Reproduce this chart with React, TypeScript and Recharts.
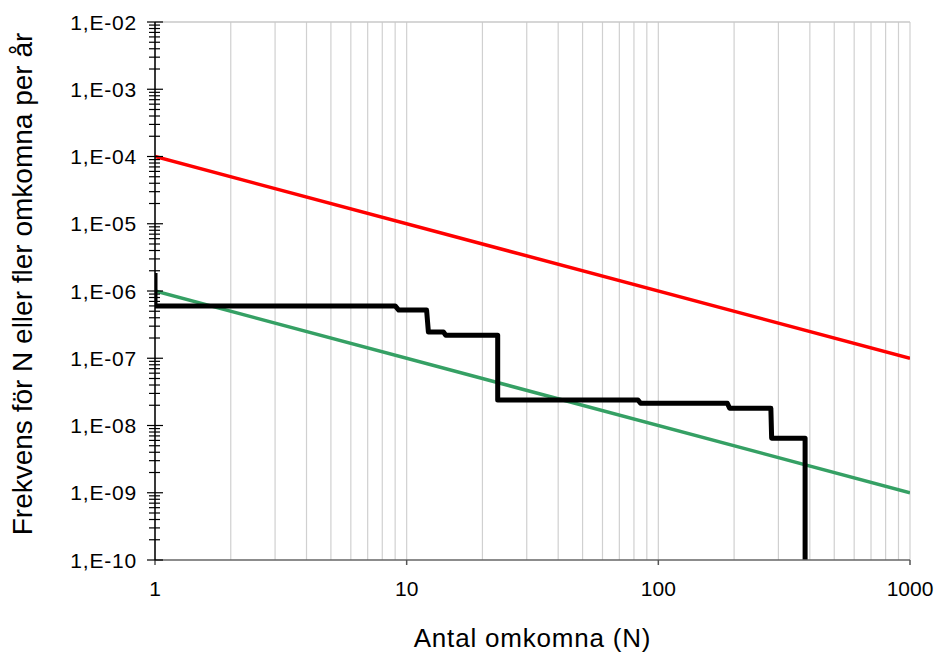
import { LineChart, Line, XAxis, YAxis, CartesianGrid, ReferenceLine } from 'recharts';

// Risk criteria lines (N, frequency)
const upperLimit = [
  { n: 1, f: 1e-4 },
  { n: 1000, f: 1e-7 },
];
const lowerLimit = [
  { n: 1, f: 1e-6 },
  { n: 1000, f: 1e-9 },
];

// FN curve (steps)
const fnCurve = [
  { n: 1, f: 1.85e-6 },
  { n: 1, f: 6e-7 },
  { n: 9, f: 6e-7 },
  { n: 9.3, f: 5.2e-7 },
  { n: 12, f: 5.2e-7 },
  { n: 12.2, f: 2.45e-7 },
  { n: 14, f: 2.45e-7 },
  { n: 14.3, f: 2.2e-7 },
  { n: 23, f: 2.2e-7 },
  { n: 23, f: 2.4e-8 },
  { n: 83, f: 2.4e-8 },
  { n: 85, f: 2.14e-8 },
  { n: 188, f: 2.14e-8 },
  { n: 192, f: 1.8e-8 },
  { n: 280, f: 1.8e-8 },
  { n: 282, f: 6.45e-9 },
  { n: 383, f: 6.45e-9 },
  { n: 383, f: 1e-10 },
];

const xDecades = [1, 10, 100];
const yDecades = [1e-10, 1e-9, 1e-8, 1e-7, 1e-6, 1e-5, 1e-4, 1e-3];
const minorSteps = [1, 2, 3, 4, 5, 6, 7, 8, 9];

const xTicks = [...xDecades.flatMap((d) => minorSteps.map((m) => m * d)), 1000];
const yTicks = [...yDecades.flatMap((d) => minorSteps.map((m) => m * d)), 1e-2];

const isMajor = (v: number) => {
  const l = Math.log10(v);
  return Math.abs(l - Math.round(l)) < 1e-6;
};

const fmtY = (v: number) => {
  const e = Math.round(Math.log10(v));
  return `1,E-${String(-e).padStart(2, '0')}`;
};

const FONT = '"Liberation Sans", Arial, sans-serif';

const XTick = (props: any) => {
  const { x, y, payload } = props;
  if (!isMajor(payload.value)) return null;
  return (
    <g>
      <line x1={x} y1={y} x2={x} y2={y + 5} stroke="#555" strokeWidth={1.5} />
      <text x={x} y={y + 28} textAnchor="middle" dominantBaseline="central" fontSize={21} fontFamily={FONT} fill="#000">
        {payload.value}
      </text>
    </g>
  );
};

const YTick = (props: any) => {
  const { x, y, payload } = props;
  const major = isMajor(payload.value);
  return (
    <g>
      <line x1={x - (major ? 8 : 6)} y1={y} x2={x + (major ? 8 : 5)} y2={y} stroke="#000" strokeWidth={1.2} />
      {major && (
        <text x={x - 18} y={y} textAnchor="end" dominantBaseline="central" fontSize={21} letterSpacing={0.8} fontFamily={FONT} fill="#000">
          {fmtY(payload.value)}
        </text>
      )}
    </g>
  );
};

const YTitle = (props: any) => {
  const vb = props.viewBox;
  const cx = vb.x + 22;
  const cy = vb.y + vb.height / 2 - 7;
  return (
    <text x={cx} y={cy} transform={`rotate(-90 ${cx} ${cy})`} textAnchor="middle" dominantBaseline="central" fontSize={28} fontFamily={FONT} fill="#000">
      Frekvens för N eller fler omkomna per år
    </text>
  );
};

const XTitle = (props: any) => {
  const vb = props.viewBox;
  return (
    <text x={vb.x + vb.width / 2} y={vb.y + 78} textAnchor="middle" dominantBaseline="central" fontSize={26} letterSpacing={0.8} fontFamily={FONT} fill="#000">
      Antal omkomna (N)
    </text>
  );
};

export default function App() {
  return (
    <div style={{ position: 'absolute', left: 0, top: 0, background: '#fff' }}>
      <LineChart width={937} height={652} margin={{ top: 22, right: 27, left: 0, bottom: 0 }}>
        <CartesianGrid horizontal={false} stroke="#d0d0d0" strokeWidth={1.2} />
        <XAxis
          dataKey="n"
          type="number"
          scale="log"
          domain={[1, 1000]}
          ticks={xTicks}
          interval={0}
          height={92}
          tickSize={0}
          tickMargin={0}
          tick={<XTick />}
          axisLine={{ stroke: '#666', strokeWidth: 1.5 }}
          allowDataOverflow
          label={<XTitle />}
        />
        <YAxis
          type="number"
          scale="log"
          domain={[1e-10, 1e-2]}
          ticks={yTicks}
          interval={0}
          width={155}
          tickSize={0}
          tickMargin={0}
          tick={<YTick />}
          axisLine={{ stroke: '#000', strokeWidth: 1.5 }}
          allowDataOverflow
          label={<YTitle />}
        />
        <ReferenceLine y={1e-2} stroke="#c8c8c8" strokeWidth={1.5} />
        <Line data={upperLimit} dataKey="f" stroke="#ff0000" strokeWidth={3.5} dot={false} isAnimationActive={false} />
        <Line data={lowerLimit} dataKey="f" stroke="#35a064" strokeWidth={3.5} dot={false} isAnimationActive={false} />
        <Line data={fnCurve} dataKey="f" stroke="#000" strokeWidth={5} dot={false} isAnimationActive={false} strokeLinejoin="round" />
      </LineChart>
    </div>
  );
}
